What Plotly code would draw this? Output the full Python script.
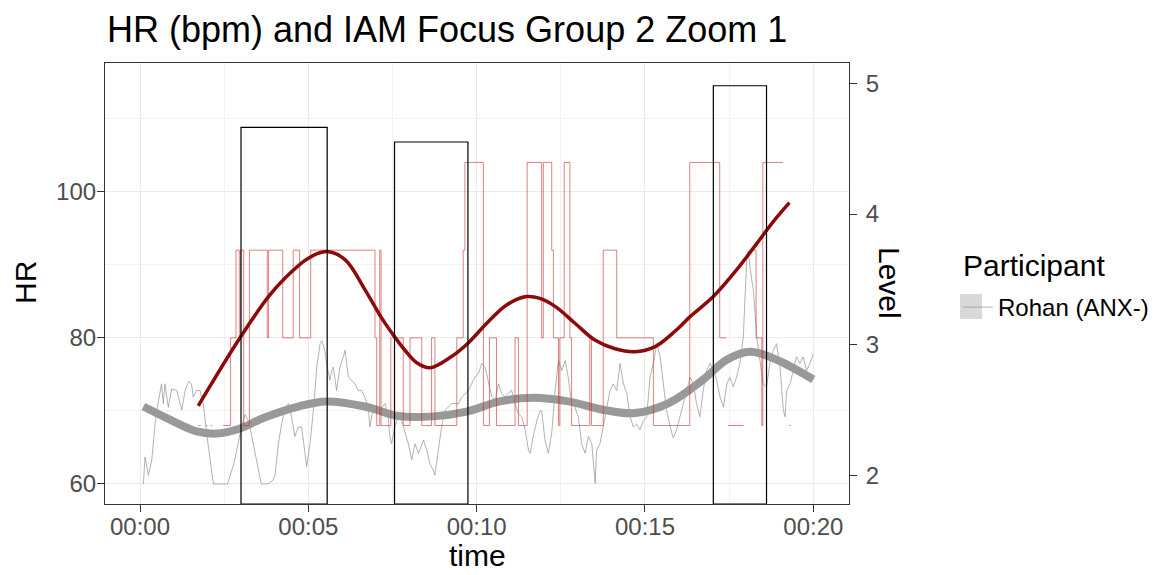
import plotly.graph_objects as go

# ---------------- data ----------------
# raw heart-rate trace (time in minutes, HR in bpm)
hr_time = [0.10, 0.15, 0.25, 0.35, 0.45, 0.50, 0.64, 0.69, 0.74, 0.84, 0.94, 1.09, 1.24, 1.34, 1.44,
           1.53, 1.58, 1.68, 1.78, 1.88, 1.98, 2.08, 2.18, 2.47, 2.60, 2.80, 3.00, 3.12, 3.20, 3.30,
           3.45, 3.60, 3.80, 3.95, 4.01, 4.11, 4.21, 4.31, 4.41, 4.50, 4.60, 4.70, 4.80, 4.90, 4.95,
           5.05, 5.15, 5.25, 5.35, 5.40, 5.49, 5.54, 5.64, 5.69, 5.74, 5.84, 5.94, 6.04, 6.09, 6.19,
           6.29, 6.39, 6.48, 6.58, 6.68, 6.78, 6.83, 6.93, 7.03, 7.13, 7.28, 7.37, 7.42, 7.47, 7.57,
           7.67, 7.72, 7.97, 8.07, 8.17, 8.27, 8.42, 8.52, 8.61, 8.71, 8.76, 8.86, 8.96, 9.06, 9.16,
           9.26, 9.36, 9.46, 9.56, 9.66, 9.75, 9.85, 9.95, 10.05, 10.15, 10.25, 10.35, 10.45, 10.55,
           10.65, 10.74, 10.84, 10.94, 11.04, 11.14, 11.24, 11.34, 11.44, 11.54, 11.59, 11.68, 11.78,
           11.88, 11.93, 12.03, 12.13, 12.23, 12.33, 12.43, 12.53, 12.63, 12.72, 12.82, 12.92, 13.02,
           13.12, 13.22, 13.32, 13.42, 13.52, 13.56, 13.66, 13.76, 13.86, 13.96, 14.06, 14.16, 14.26,
           14.36, 14.46, 14.56, 14.65, 14.75, 14.85, 14.95, 15.05, 15.15, 15.25, 15.35, 15.45, 15.55,
           15.64, 15.74, 15.84, 15.94, 16.04, 16.14, 16.24, 16.34, 16.44, 16.53, 16.63, 16.73, 16.83,
           16.93, 17.03, 17.13, 17.23, 17.33, 17.43, 17.52, 17.62, 17.72, 17.82, 17.92, 18.02, 18.07,
           18.12, 18.22, 18.32, 18.42, 18.51, 18.61, 18.71, 18.81, 18.91, 19.01, 19.11, 19.16, 19.21,
           19.31, 19.41, 19.50, 19.60, 19.70, 19.80, 19.90, 20.00]
hr_bpm = [60.0, 63.7, 61.2, 63.3, 68.3, 70.1, 73.7, 71.0, 73.7, 70.5, 73.0, 72.8, 70.1, 72.8, 74.0,
          73.7, 71.9, 72.8, 72.8, 71.0, 66.9, 63.7, 60.0, 60.0, 60.0, 63.0, 67.5, 69.5, 68.8, 67.0,
          63.5, 60.0, 60.0, 60.5, 61.2, 65.5, 68.3, 70.5, 71.0, 69.2, 66.5, 67.8, 67.8, 64.6, 62.4,
          65.5, 70.1, 76.0, 79.2, 79.6, 78.3, 76.5, 74.2, 75.5, 76.0, 72.8, 76.0, 77.4, 78.3, 74.6,
          74.2, 73.7, 72.8, 72.8, 71.9, 70.5, 67.8, 70.5, 70.1, 70.1, 71.0, 69.2, 66.5, 65.5, 67.8,
          69.2, 69.5, 65.5, 63.3, 65.5, 64.2, 66.0, 64.6, 62.8, 61.9, 61.2, 64.6, 67.8, 70.1, 70.5,
          71.0, 71.0, 71.0, 71.9, 72.4, 72.8, 73.7, 74.6, 75.1, 76.5, 76.0, 73.7, 71.9, 71.5,
          73.7, 72.4, 71.9, 72.4, 72.8, 71.0, 69.6, 69.2, 67.4, 64.6, 64.2, 66.5, 68.5,
          70.0, 70.0, 66.0, 64.2, 67.0, 72.8, 76.9, 75.5, 76.9, 74.6, 71.0, 70.5, 69.2,
          65.5, 64.2, 66.5, 65.5, 60.1, 64.6, 65.5, 67.8, 70.1, 72.8, 73.7, 72.8, 76.5,
          73.7, 72.4, 69.2, 67.8, 68.2, 67.4, 68.6, 69.2, 74.6, 76.5, 79.2, 77.4, 73.7,
          70.1, 68.0, 66.3, 67.4, 69.2, 71.0, 72.8, 74.6, 73.7, 71.0, 69.2, 72.8, 75.5,
          76.5, 75.5, 74.2, 71.9, 70.5, 73.7, 74.6, 73.3, 74.6, 76.5, 80.1, 90.5, 91.9,
          89.6, 86.5, 80.1, 76.5, 73.7, 73.3, 76.5, 78.3, 79.2, 76.0, 70.1, 69.2, 72.8,
          73.7, 75.5, 77.4, 76.5, 77.4, 75.5, 76.5, 77.8]

# smoothed heart rate
hr_smooth_time = [0.10, 0.89, 1.68, 2.28, 2.97, 3.70, 4.70, 5.54, 6.68, 7.67, 8.71, 9.70, 10.69,
                  11.68, 12.72, 13.71, 14.70, 15.72, 16.73, 17.43, 18.12, 18.91, 20.00]
hr_smooth_bpm = [70.6, 68.8, 67.2, 66.9, 67.6, 69.1, 70.6, 71.3, 70.6, 69.3, 69.25, 69.9, 71.3,
                 71.8, 71.3, 70.2, 69.7, 71.1, 74.3, 77.0, 78.1, 77.0, 74.3]

# IAM level (coded 1-4, None = missing), step changes in time (minutes)
level_time = [1.73, 1.80, 1.95, 2.00, 2.10, 2.14, 2.47, 2.69, 2.85, 2.95, 2.99, 3.08, 3.25, 3.78,
              3.82, 4.24, 4.55, 4.74, 5.07, 6.98, 7.03, 7.12, 7.16, 7.45, 7.82, 8.02, 8.37, 8.66,
              8.76, 9.41, 9.60, 9.65, 10.20, 10.38, 10.59, 11.14, 11.24, 11.50, 11.93, 11.98, 12.23,
              12.28, 12.43, 12.47, 12.60, 12.77, 12.82, 13.36, 13.41, 13.76, 14.16, 15.25, 16.33,
              17.22, 17.42, 17.47, 17.93, 18.22, 18.30, 18.47, 18.50, 19.10, 19.27, 19.32]
level_code = [1, None, 1, None, 1, None, 1, 2, 3, 2, 3, 1, 3, 2,
              3, 2, 3, 2, 3, 2, 1, 3, 1, 2, 1, 2, 1, 2,
              1, 2, 3, 4, 1, 2, 1, 2, 1, 4, 2, 4, 3,
              2, 1, 2, 4, 2, 1, 2, 1, 3, 2, 1, 4,
              2, None, 1, None, 3, 2, 1, 4, None, 1, None]
level_hr_scale = {1: 68, 2: 80, 3: 92, 4: 104}   # level code -> HR axis position

# smoothed level (on HR axis)
level_smooth_time = [1.73, 2.97, 3.81, 4.31, 5.00, 5.54, 6.09, 6.68, 7.18, 7.57, 7.87, 8.22, 8.61,
                     9.21, 9.75, 10.30, 10.89, 11.48, 11.88, 12.33, 12.92, 13.51, 14.11, 14.70,
                     15.30, 15.89, 16.34, 17.03, 17.72, 18.32, 18.81, 19.29]
level_smooth_hr = [70.7, 80.0, 85.6, 88.2, 90.9, 91.8, 90.7, 86.6, 82.7, 80.1, 78.3, 76.6, 75.9,
                   77.3, 79.3, 82.0, 84.5, 85.65, 85.4, 84.3, 82.0, 79.7, 78.5, 78.1,
                   78.8, 80.9, 82.9, 85.65, 89.3, 92.9, 95.9, 98.5]

# highlighted windows
window_start = [3.00, 7.56, 17.03]
window_end = [5.56, 9.74, 18.61]
window_top = [108.8, 106.8, 114.5]

x_tick_vals = [0, 5, 10, 15, 20]
x_tick_text = ["00:00", "00:05", "00:10", "00:15", "00:20"]
hr_ticks = [60, 80, 100]
level_ticks = [2, 3, 4, 5]

# ------------- build step series with gaps -------------
step_x, step_y = [], []
prev = None
for t, c in zip(level_time, level_code):
    if c is None:
        if prev is not None:
            step_x.append(t)
            step_y.append(level_hr_scale[prev])
        step_x.append(t)
        step_y.append(None)
    else:
        step_x.append(t)
        step_y.append(level_hr_scale[c])
    prev = c

FONT = "Liberation Sans, Arial, sans-serif"
fig = go.Figure()

fig.add_trace(go.Scatter(x=hr_time, y=hr_bpm, mode="lines", name="Rohan (ANX-)",
                         line=dict(color="rgba(140,140,140,0.75)", width=0.9),
                         showlegend=True))
fig.add_trace(go.Scatter(x=hr_smooth_time, y=hr_smooth_bpm, mode="lines", showlegend=False,
                         line=dict(color="#999999", width=8, shape="spline", smoothing=1.0)))
fig.add_trace(go.Scatter(x=step_x, y=step_y, mode="lines", showlegend=False, connectgaps=False,
                         line=dict(color="rgba(205,45,45,0.6)", width=1, shape="hv")))
fig.add_trace(go.Scatter(x=level_smooth_time, y=level_smooth_hr, mode="lines", showlegend=False,
                         line=dict(color="#8B0A0A", width=3.5, shape="spline", smoothing=1.0)))
# carrier for the secondary axis
fig.add_trace(go.Scatter(x=[x_tick_vals[0]], y=[level_ticks[0]], yaxis="y2", mode="markers",
                         marker=dict(opacity=0), showlegend=False, hoverinfo="skip"))

for s, e, top in zip(window_start, window_end, window_top):
    fig.add_shape(type="rect", xref="x", yref="y", x0=s, x1=e, y0=57.26, y1=top,
                  line=dict(color="black", width=1.2), fillcolor="rgba(0,0,0,0)", layer="above")

axis_common = dict(ticks="outside", ticklen=7, tickwidth=1.1, tickcolor="#333333",
                   showline=True, linecolor="#333333", linewidth=1.1, zeroline=False,
                   tickfont=dict(family=FONT, size=24, color="#4d4d4d"))

fig.update_layout(
    width=1157, height=575,
    margin=dict(l=105, r=308, t=63, b=71, autoexpand=False),
    paper_bgcolor="white", plot_bgcolor="white",
    title=dict(text="HR (bpm) and IAM Focus Group 2 Zoom 1", x=107 / 1157, xanchor="left",
               y=1 - 29 / 575, yanchor="middle", font=dict(family=FONT, size=36, color="black")),
    xaxis=dict(range=[-1.04, 21.06], tickvals=x_tick_vals, ticktext=x_tick_text, mirror=True,
               showgrid=True, gridcolor="#ebebeb", gridwidth=1.2, automargin=False,
               ticklabelstandoff=-6,
               minor=dict(tickvals=[2.5, 7.5, 12.5, 17.5], showgrid=True, gridcolor="#f2f2f2",
                          gridwidth=0.7, ticks=""),
               **axis_common),
    yaxis=dict(range=[57.26, 117.61], tickvals=hr_ticks, mirror=True, automargin=False,
               showgrid=True, gridcolor="#ebebeb", gridwidth=1.2, ticklabelstandoff=-4,
               minor=dict(tickvals=[70, 90, 110], showgrid=True, gridcolor="#f2f2f2",
                          gridwidth=0.7, ticks=""),
               **axis_common),
    yaxis2=dict(range=[1.7836, 5.155], tickvals=level_ticks, overlaying="y", side="right",
                showgrid=False, ticklabelstandoff=4, automargin=False, **axis_common),
    legend=dict(font=dict(family=FONT, size=24, color="black"),
                x=(958 - 105) / 744, xanchor="left", y=(504 - 285) / 441, yanchor="top",
                bgcolor="rgba(0,0,0,0)", itemwidth=30),
    annotations=[
        dict(text="HR", xref="paper", yref="paper", x=(25 - 105) / 744, y=(504 - 283) / 441,
             xanchor="center", yanchor="middle",
             showarrow=False, textangle=-90, font=dict(family=FONT, size=30, color="black")),
        dict(text="time", xref="paper", yref="paper", x=(477 - 105) / 744, y=(504 - 555) / 441,
             xanchor="center", yanchor="middle", borderpad=0,
             showarrow=False, font=dict(family=FONT, size=30, color="black")),
        dict(text="Level", xref="paper", yref="paper", x=(890 - 105) / 744, y=(504 - 283) / 441,
             xanchor="center", yanchor="middle",
             showarrow=False, textangle=90, font=dict(family=FONT, size=30, color="black")),
        dict(text="Participant", xref="paper", yref="paper", x=(961 - 105) / 744,
             y=(504 - 265) / 441, xanchor="left", yanchor="middle",
             showarrow=False, font=dict(family=FONT, size=30, color="black")),
    ],
)

# legend key background
fig.add_shape(type="rect", xref="paper", yref="paper",
              x0=(960 - 105) / 744, x1=(982 - 105) / 744,
              y0=(504 - 319) / 441, y1=(504 - 294) / 441,
              line=dict(width=0), fillcolor="#d9d9d9", layer="below")

fig.write_html("out.html")
